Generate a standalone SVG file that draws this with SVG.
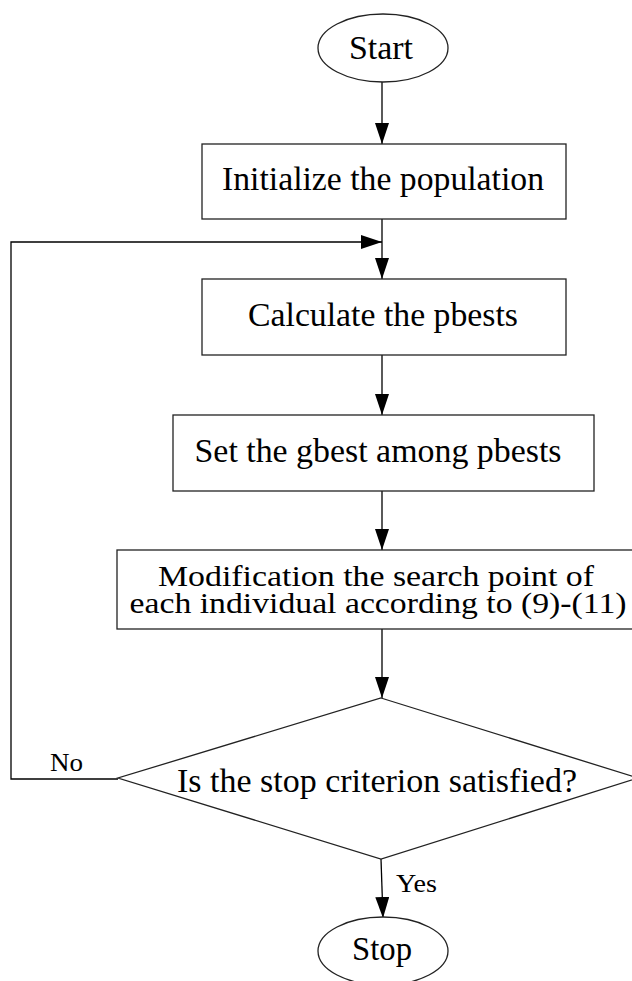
<svg xmlns="http://www.w3.org/2000/svg" width="632" height="981" viewBox="0 0 632 981">
<defs>
<marker id="ah" markerUnits="userSpaceOnUse" markerWidth="21" markerHeight="14" refX="21" refY="7" orient="auto">
<path d="M0,0 L21,7 L0,14 z" fill="#000"/>
</marker>
<style>
.shape{fill:#fff;stroke:#222;stroke-width:1.3}
.t{font-family:"Liberation Serif","Times New Roman",serif;font-size:34px;fill:#000;text-anchor:middle}
.m{font-size:30px}
.lbl{font-family:"Liberation Serif","Times New Roman",serif;font-size:26px;fill:#000}
.edge{fill:none;stroke:#000;stroke-width:1.3}
</style>
</defs>
<rect width="632" height="981" fill="#fff"/>
<g id="connectors">
<path class="edge" d="M382,82 L382,144" marker-end="url(#ah)"/>
<path class="edge" d="M382,219 L382,279" marker-end="url(#ah)"/>
<path class="edge" d="M118,779 L11,779 L11,242 L382,242" marker-end="url(#ah)"/>
<path class="edge" d="M382,355 L382,415" marker-end="url(#ah)"/>
<path class="edge" d="M382,491 L382,550" marker-end="url(#ah)"/>
<path class="edge" d="M382,629 L382,698" marker-end="url(#ah)"/>
<path class="edge" d="M381,859 L383,918" marker-end="url(#ah)"/>
<text class="lbl" x="50" y="771" textLength="33" lengthAdjust="spacingAndGlyphs">No</text>
<text class="lbl" x="396" y="892" textLength="41" lengthAdjust="spacingAndGlyphs">Yes</text>
</g>
<g id="start">
<ellipse class="shape" cx="383" cy="48" rx="65" ry="34"/>
<text class="t" x="381" y="59" textLength="64" lengthAdjust="spacingAndGlyphs">Start</text>
</g>
<g id="init">
<rect class="shape" x="202" y="144" width="364" height="75"/>
<text class="t" x="383" y="190" textLength="322" lengthAdjust="spacingAndGlyphs">Initialize the population</text>
</g>
<g id="calc">
<rect class="shape" x="202" y="279" width="364" height="76"/>
<text class="t" x="383" y="326" textLength="270" lengthAdjust="spacingAndGlyphs">Calculate the pbests</text>
</g>
<g id="set">
<rect class="shape" x="173" y="415" width="421" height="76"/>
<text class="t" x="378" y="462" textLength="367" lengthAdjust="spacingAndGlyphs">Set the gbest among pbests</text>
</g>
<g id="modify">
<rect class="shape" x="117" y="550" width="523" height="79"/>
<text class="t m" x="376" y="586" textLength="436" lengthAdjust="spacingAndGlyphs">Modification the search point of</text>
<text class="t m" x="378" y="613" textLength="497" lengthAdjust="spacingAndGlyphs">each individual according to (9)-(11)</text>
</g>
<g id="decision">
<polygon class="shape" points="381,698 638,778 381,859 118,778"/>
<text class="t" x="377" y="792" textLength="400" lengthAdjust="spacingAndGlyphs">Is the stop criterion satisfied?</text>
</g>
<g id="stop">
<ellipse class="shape" cx="383" cy="951" rx="65" ry="34"/>
<text class="t" x="382" y="960" textLength="60" lengthAdjust="spacingAndGlyphs">Stop</text>
</g>
</svg>
